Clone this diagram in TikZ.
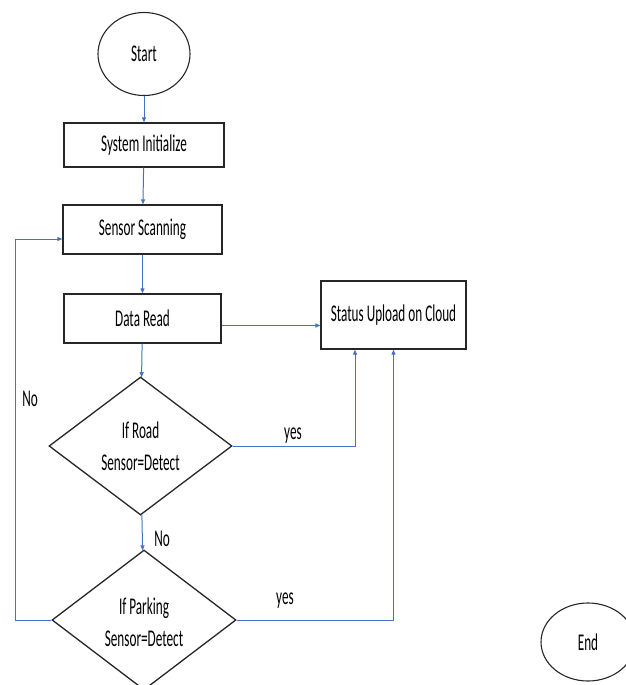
\documentclass[tikz,border=0pt]{standalone}
\usepackage{fontspec}
\setmainfont[FakeStretch=0.55]{Carlito}
\usetikzlibrary{shapes.geometric,arrows.meta}
\definecolor{flowblue}{HTML}{4472C4}
\tikzset{
  block/.style={draw=black!85, line width=1.3pt, rectangle, inner sep=0pt, align=center},
  term/.style={draw=black!85, line width=1.1pt, ellipse, inner sep=0pt, align=center},
  test/.style={draw=black!85, line width=1.3pt, diamond, aspect=1.33, inner sep=0pt, align=center},
  flow/.style={draw=flowblue, line width=1pt, -{Triangle[length=5pt,width=4pt]}},
  lbl/.style={inner sep=0pt}
}
\begin{document}
\begin{tikzpicture}[x=1pt, y=-1pt, font=\fontsize{24}{32}\selectfont]
\useasboundingbox (0,0) rectangle (626,685);

\node [term, minimum width=92, minimum height=83] (start) at (144,54) {Start};
\node [block, minimum width=160, minimum height=44] (init) at (144,145) {System Initialize};
\node [block, minimum width=159, minimum height=49] (scan) at (142.5,229.5) {Sensor Scanning};
\node [block, minimum width=157, minimum height=49] (read) at (142.5,318.5) {Data Read};
\node [block, minimum width=145, minimum height=68] (status) at (393.5,315) {Status Upload on Cloud};
\node [test, minimum width=183, minimum height=138] (road) at (140.5,446) {If Road\\Sensor=Detect};
\node [test, minimum width=184, minimum height=140] (park) at (144,620)
  {\raisebox{-4pt}[\height][\depth]{\begin{tabular}{@{}c@{}}If Parking\\Sensor=Detect\end{tabular}}};
\node [term, minimum width=94, minimum height=78] (end) at (588,642) {End};

\coordinate (loop) at (15,239);
\coordinate (roadup) at (355,446);

\begin{scope}[flow]
\draw (start) -- (init);
\draw (init) -- (scan);
\draw (scan) -- (read);
\draw (read) -- (road);
\draw (road) -- (park);
\draw ([yshift=-7pt]read.east) -- ([yshift=-7pt]read.east -| status.west);
\draw (road.east) -- (roadup) -- (roadup |- status.south);
\draw (park.east) -| (status.south);
\draw (park.west) -- (park.west -| loop) -- (loop) -- (loop -| scan.west);
\end{scope}

\node [lbl] (no1) at (30,399) {No};
\node [lbl] (no2) at (162,539) {No};
\node [lbl] (yes1) at (293,436) {yes};
\node [lbl] (yes2) at (285,601) {yes};

\end{tikzpicture}
\end{document}
